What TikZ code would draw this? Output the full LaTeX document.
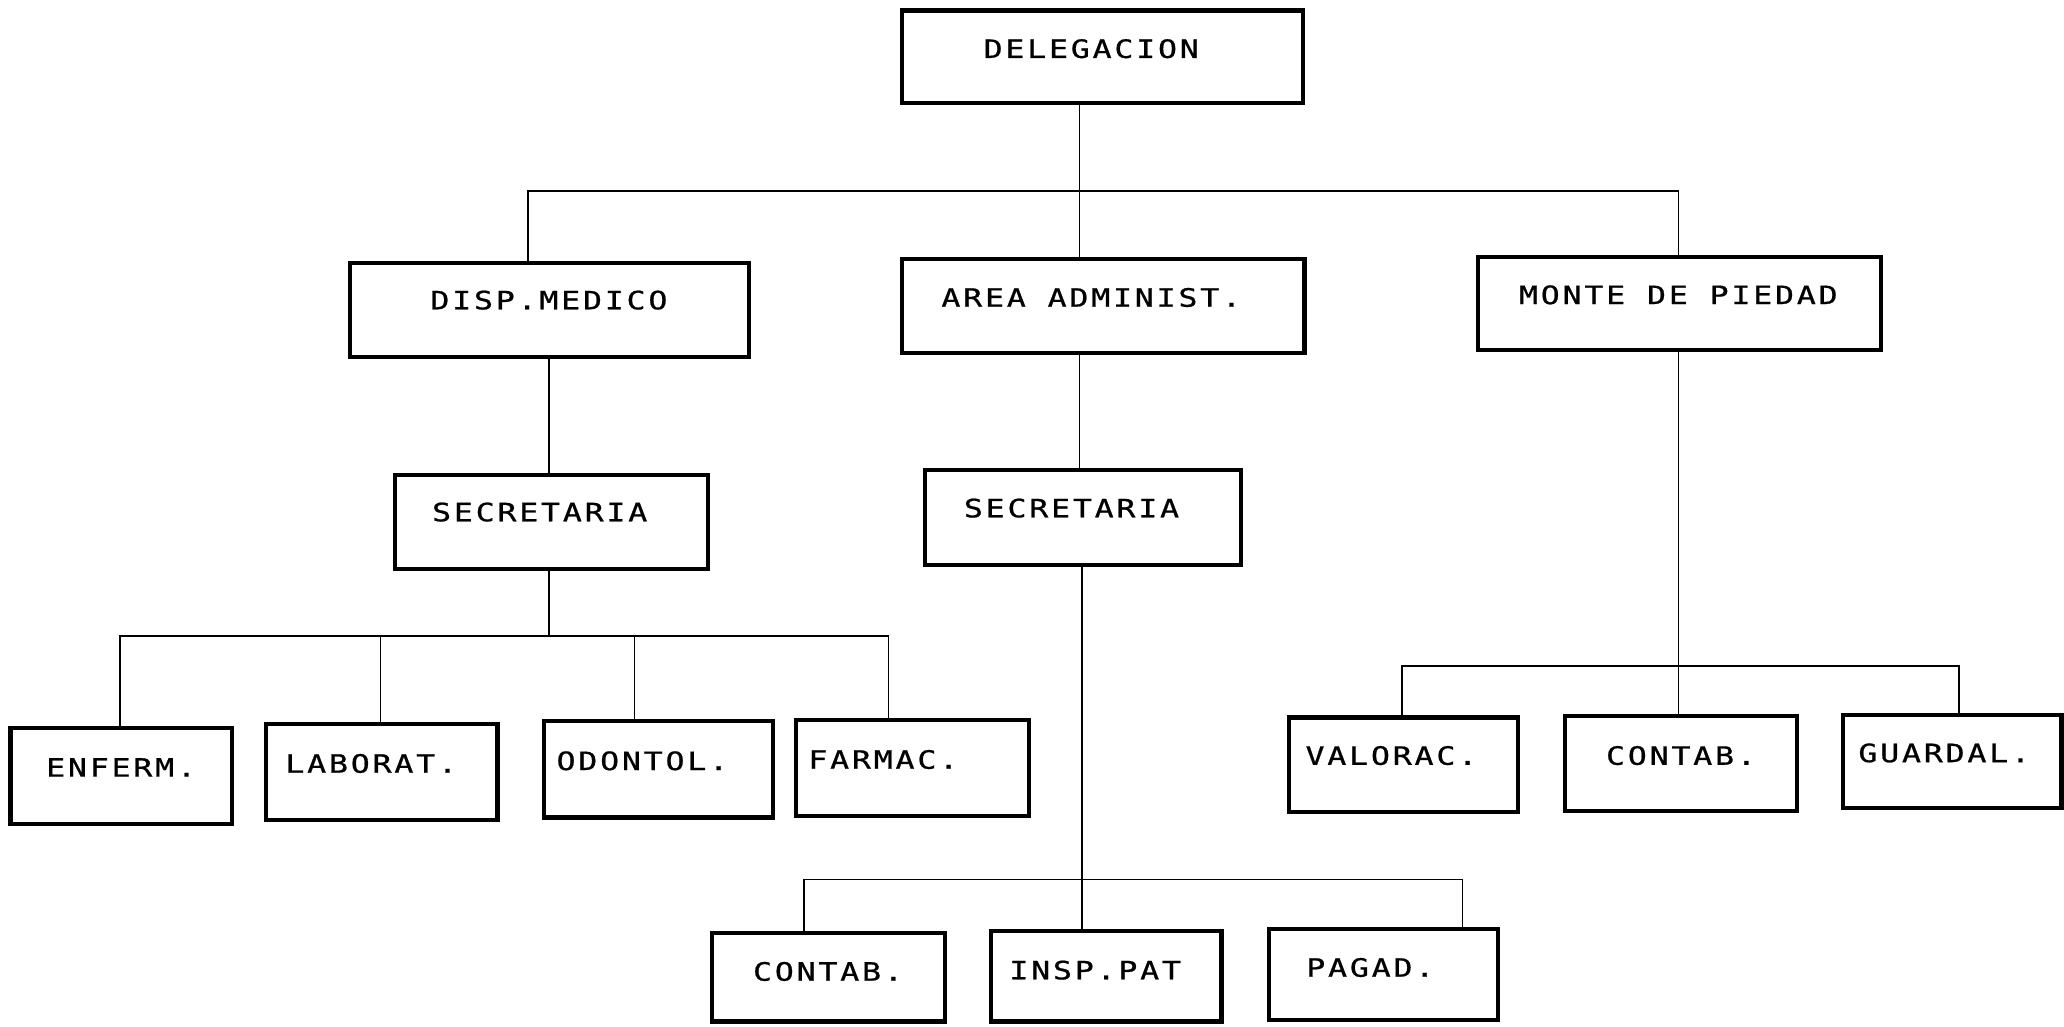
\documentclass[tikz,border=0pt]{standalone}
\usepackage{fontspec}
\newfontfamily\chartfont[FakeStretch=1.25,LetterSpace=11,FakeBold=0.8]{DejaVu Sans Mono}
\begin{document}
\begin{tikzpicture}[x=0.5pt,y=-0.5pt,
  box/.style={draw=black, line width=1.6pt, rectangle, inner sep=0pt, fill=white},
  lbl/.style={inner sep=0pt, text height=7pt, text depth=0pt, font=\chartfont\fontsize{9.6pt}{11pt}\selectfont},
  conn/.style={draw=black, line width=0.6pt}]
\clip (0,0) rectangle (1568,779.5);
\fill[white] (0,0) rectangle (1568,779.5);
% boxes
\node[box, minimum width=152.5pt, minimum height=35pt] (deleg) at (837.5,43) {};
\node[box, minimum width=151.5pt, minimum height=35.5pt] (disp) at (417.5,235.5) {};
\node[box, minimum width=153pt, minimum height=35.5pt] (area) at (838,232.5) {};
\node[box, minimum width=153pt, minimum height=35.5pt] (monte) at (1276,230.5) {};
\node[box, minimum width=119pt, minimum height=35.5pt] (sec1) at (419,396.5) {};
\node[box, minimum width=120pt, minimum height=36pt] (sec2) at (823,393) {};
\node[box, minimum width=84pt, minimum height=36.5pt] (enf) at (92,589.5) {};
\node[box, minimum width=88pt, minimum height=36.5pt] (lab) at (290,586.5) {};
\node[box, minimum width=87pt, minimum height=36.5pt] (odo) at (500,584.5) {};
\node[box, minimum width=88.5pt, minimum height=36.5pt] (far) at (693.5,583.5) {};
\node[box, minimum width=87pt, minimum height=36pt] (val) at (1066,581) {};
\node[box, minimum width=88pt, minimum height=36pt] (conmp) at (1277,580) {};
\node[box, minimum width=83pt, minimum height=35.5pt] (gua) at (1483,578.5) {};
\node[box, minimum width=88.5pt, minimum height=33.5pt] (con2) at (629.5,742.5) {};
\node[box, minimum width=87.5pt, minimum height=34.5pt] (insp) at (840.5,741.5) {};
\node[box, minimum width=87pt, minimum height=34.5pt] (pag) at (1051,740.5) {};
% labels
\node[lbl] (delegT) at (829,37) {DELEGACION};
\node[lbl] (dispT) at (417,228) {DISP.MEDICO};
\node[lbl] (areaT) at (829,226) {AREA ADMINIST.};
\node[lbl] (monteT) at (1275,224) {MONTE DE PIEDAD};
\node[lbl] (sec1T) at (410,389) {SECRETARIA};
\node[lbl] (sec2T) at (814,386) {SECRETARIA};
\node[lbl] (enfT) at (92,583) {ENFERM.};
\node[lbl] (labT) at (282,580) {LABORAT.};
\node[lbl] (odoT) at (488,578) {ODONTOL.};
\node[lbl] (farT) at (671,577) {FARMAC.};
\node[lbl] (valT) at (1057,574) {VALORAC.};
\node[lbl] (conmpT) at (1277,574) {CONTAB.};
\node[lbl] (guaT) at (1477,572) {GUARDAL.};
\node[lbl] (con2T) at (629,738) {CONTAB.};
\node[lbl] (inspT) at (832,737) {INSP.PAT};
\node[lbl] (pagT) at (1041,735) {PAGAD.};
% junction coordinates
\coordinate (j0) at (820,145);
\coordinate (b1L) at (401,145);
\coordinate (b1R) at (1275,145);
\coordinate (b2L) at (91,483);
\coordinate (b2a) at (289,483);
\coordinate (b2M) at (417,483);
\coordinate (b2b) at (482,483);
\coordinate (b2R) at (675,483);
\coordinate (b3L) at (611,668);
\coordinate (b3M) at (822,668);
\coordinate (b3R) at (1111,668);
\coordinate (b4L) at (1065,506);
\coordinate (b4M) at (1275,506);
\coordinate (b4R) at (1488,506);
% connectors
\draw[conn] (deleg.south -| j0) -- (area.north -| j0);
\draw[conn] (disp.north -| b1L) -- (b1L) -- (b1R) -- (monte.north -| b1R);
\draw[conn] (disp.south -| b2M) -- (sec1.north -| b2M);
\draw[conn] (sec1.south -| b2M) -- (b2M);
\draw[conn] (enf.north -| b2L) -- (b2L) -- (b2R) -- (far.north -| b2R);
\draw[conn] (b2a) -- (lab.north -| b2a);
\draw[conn] (b2b) -- (odo.north -| b2b);
\draw[conn] (area.south -| j0) -- (sec2.north -| j0);
\draw[conn] (sec2.south -| b3M) -- (insp.north -| b3M);
\draw[conn] (con2.north -| b3L) -- (b3L) -- (b3R) -- (pag.north -| b3R);
\draw[conn] (monte.south -| b4M) -- (conmp.north -| b4M);
\draw[conn] (val.north -| b4L) -- (b4L) -- (b4R) -- (gua.north -| b4R);
\end{tikzpicture}
\end{document}
